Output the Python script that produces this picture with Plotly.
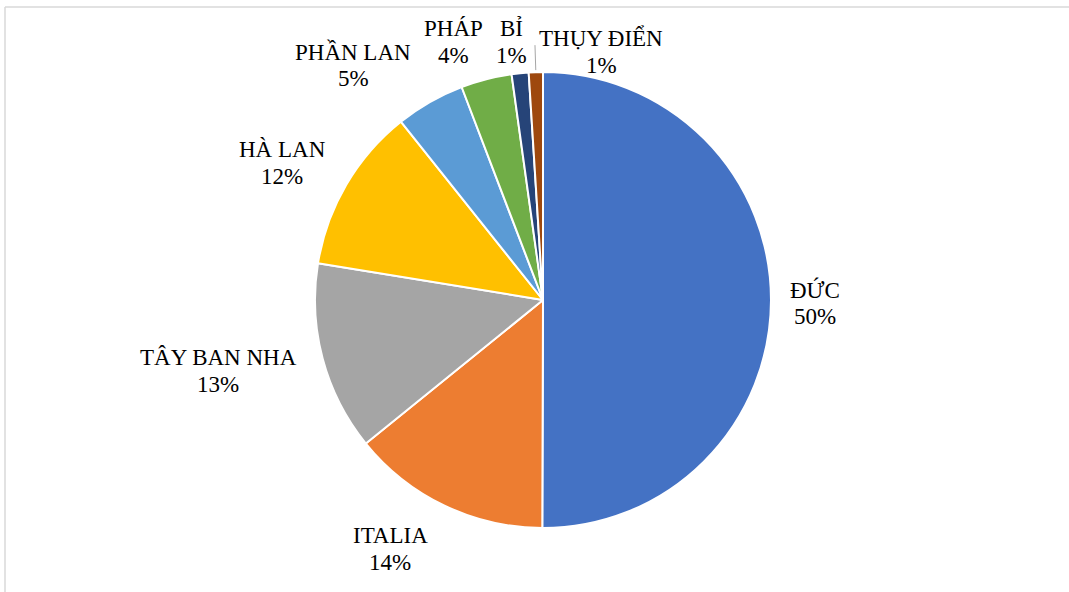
import math
import plotly.graph_objects as go

# export share by country
countries = ["ĐỨC", "ITALIA", "TÂY BAN NHA", "HÀ LAN", "PHẦN LAN", "PHÁP", "BỈ", "THỤY ĐIỂN"]
shares = [50.0, 14.1, 13.4, 11.7, 4.9, 3.6, 1.2, 1.0]
colors = ["#4472C4", "#ED7D31", "#A5A5A5", "#FFC000", "#5B9BD5", "#70AD47", "#264478", "#9E480E"]

# label block centres in pixels (Excel "best fit" placement)
label_px = [(815, 303), (390, 549), (218, 371), (282, 163), (353, 65), (453, 42), (511, 42), (601, 52)]

W, H = 1069, 592
ml, mr, mt, mb = 93, 76, 72, 64
pw, ph = W - ml - mr, H - mt - mb
cx, cy, R = ml + pw / 2, mt + ph / 2, min(pw, ph) / 2
FONT = "Liberation Serif, Times New Roman, DejaVu Serif, serif"
LINE_GAP = 27


def to_paper(px, py):
    return (px - ml) / pw, (H - mb - py) / ph


fig = go.Figure(go.Pie(
    labels=countries,
    values=shares,
    sort=False,
    direction="clockwise",
    rotation=0,
    textinfo="none",
    hoverinfo="label+percent",
    marker=dict(colors=colors, line=dict(color="white", width=2)),
    showlegend=False,
))

total = sum(shares)
for name, v, (px, py) in zip(countries, shares, label_px):
    # name on the first line, rounded percentage on the second
    for txt, dy in [(name, -LINE_GAP / 2), (f"{round(v / total * 100)}%", LINE_GAP / 2)]:
        x, y = to_paper(px, py + dy)
        fig.add_annotation(
            x=x, y=y, xref="paper", yref="paper", text=txt,
            showarrow=False, xanchor="center", yanchor="middle",
            font=dict(family=FONT, size=23, color="black"),
        )

# leader line for the smallest slice
mid = math.radians(360 * (total - shares[-1] / 2) / total)
x0, y0 = to_paper(cx + (R + 2) * math.sin(mid), cy - (R + 2) * math.cos(mid))
x1, y1 = to_paper(cx + (R + 27) * math.sin(mid), cy - (R + 27) * math.cos(mid))
fig.add_shape(type="line", xref="paper", yref="paper", x0=x0, y0=y0, x1=x1, y1=y1,
              line=dict(color="#A6A6A6", width=1))

# chart frame (top and left edge visible)
fx0, fy0 = to_paper(5, 7)
fx1, _ = to_paper(W + 5, 7)
_, fy1 = to_paper(5, H + 5)
fig.add_shape(type="line", xref="paper", yref="paper", x0=fx0, y0=fy0, x1=fx1, y1=fy0,
              line=dict(color="#D9D9D9", width=1.5))
fig.add_shape(type="line", xref="paper", yref="paper", x0=fx0, y0=fy0, x1=fx0, y1=fy1,
              line=dict(color="#D9D9D9", width=1.5))

fig.update_layout(
    width=W, height=H,
    margin=dict(l=ml, r=mr, t=mt, b=mb),
    paper_bgcolor="white",
    plot_bgcolor="white",
    font=dict(family=FONT),
)

# drop the default page margin so the figure sits at the window's corner
fig.write_html("out.html", config={"displayModeBar": False},
               post_script="document.body.style.margin='0';")
